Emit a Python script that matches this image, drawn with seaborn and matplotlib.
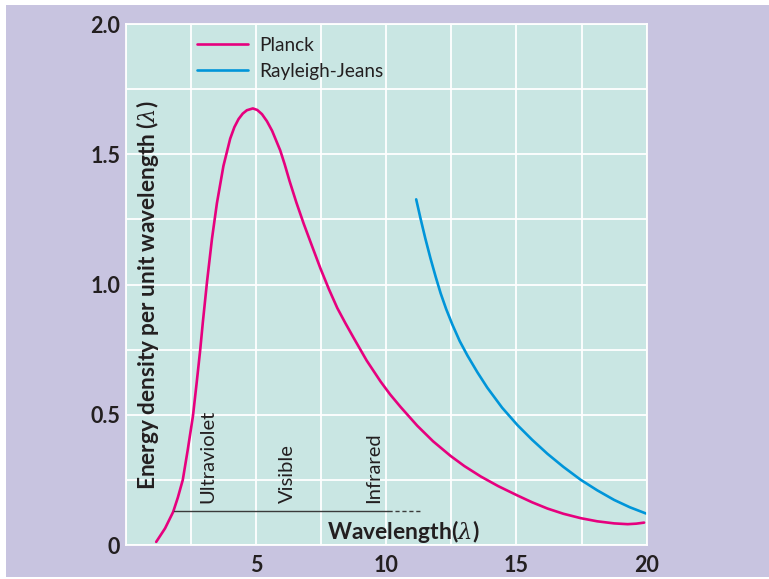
import numpy as np
import pandas as pd
import matplotlib
matplotlib.use("Agg")
import matplotlib.pyplot as plt
from matplotlib.patches import Rectangle
import seaborn as sns

# values
planck_x = [1.17, 1.51, 1.82, 2.0, 2.19, 2.38, 2.58, 2.72, 2.86, 2.96, 3.12, 3.31, 3.50, 3.75,
            4.01, 4.17, 4.33, 4.49, 4.65, 4.88, 5.05, 5.23, 5.42, 5.62, 5.93, 6.1, 6.29, 6.55,
            6.83, 7.15, 7.47, 7.8, 8.12, 8.43, 8.75, 9.25, 9.78, 10.15, 10.55, 11.19, 11.8,
            12.47, 13.0, 13.63, 14.3, 15.04, 15.6, 16.19, 16.8, 17.47, 18.1, 18.75, 19.27,
            19.6, 19.9]
planck_y = [0.012, 0.064, 0.127, 0.182, 0.25, 0.365, 0.495, 0.62, 0.75, 0.855, 1.010, 1.175,
            1.312, 1.455, 1.560, 1.604, 1.635, 1.656, 1.669, 1.676, 1.670, 1.654, 1.627, 1.590,
            1.515, 1.462, 1.397, 1.315, 1.234, 1.148, 1.063, 0.982, 0.910, 0.852, 0.795, 0.708,
            0.628, 0.578, 0.530, 0.458, 0.398, 0.342, 0.303, 0.263, 0.226, 0.190, 0.164, 0.140,
            0.120, 0.103, 0.091, 0.083, 0.080, 0.082, 0.086]

rj_x = [11.15, 11.32, 11.5, 11.70, 11.9, 12.09, 12.3, 12.54, 12.82, 13.12, 13.5, 13.88, 14.45,
        15.04, 15.6, 16.19, 16.8, 17.47, 18.1, 18.75, 19.35, 19.97]
rj_y = [1.327, 1.252, 1.177, 1.100, 1.029, 0.966, 0.906, 0.846, 0.783, 0.727, 0.663, 0.604, 0.527,
        0.460, 0.404, 0.350, 0.300, 0.250, 0.210, 0.173, 0.145, 0.121]

band_names = ["Ultraviolet", "Visible", "Infrared"]
band_x = [3.17, 6.2, 9.51]

x_ticks = [0, 2.5, 5, 7.5, 10, 12.5, 15, 17.5, 20]
x_labels = ["", "", "5", "", "10", "", "15", "", "20"]
y_ticks = [0, 0.25, 0.5, 0.75, 1.0, 1.25, 1.5, 1.75, 2.0]
y_labels = ["0", "", "0.5", "", "1.0", "", "1.5", "", "2.0"]

LAVENDER = "#c8c4e0"
TEAL = "#c9e6e3"
PINK = "#e6007e"
BLUE = "#0095d9"
DARK = "#231f20"

sns.set_style("white")
plt.rcParams["font.family"] = ["Lato", "DejaVu Sans"]
plt.rcParams["mathtext.fontset"] = "dejavuserif"

fig = plt.figure(figsize=(7.69, 5.79), dpi=100, facecolor="white")
fig.patches.append(Rectangle((6 / 769, 2 / 579), 1, 572 / 579, transform=fig.transFigure,
                             facecolor=LAVENDER, edgecolor="none", zorder=-10))
ax = fig.add_axes([0.1635, 0.0587, 0.6775, 0.8998])
ax.set_facecolor(TEAL)

planck_df = pd.DataFrame({"x": planck_x, "y": planck_y})
rj_df = pd.DataFrame({"x": rj_x, "y": rj_y})
sns.lineplot(data=planck_df, x="x", y="y", ax=ax, color=PINK, lw=1.9, label="Planck", sort=False)
sns.lineplot(data=rj_df, x="x", y="y", ax=ax, color=BLUE, lw=1.9, label="Rayleigh-Jeans", sort=False)

ax.set_xlim(0, 20)
ax.set_ylim(0, 2.0)
ax.set_xticks(x_ticks)
ax.set_xticklabels(x_labels)
ax.set_yticks(y_ticks)
ax.set_yticklabels(y_labels)
ax.tick_params(length=0, labelsize=15.5, labelcolor=DARK)
ax.tick_params(axis="x", pad=7)
ax.tick_params(axis="y", pad=4)
for lab in ax.get_xticklabels() + ax.get_yticklabels():
    lab.set_fontweight("bold")
ax.grid(True, color="white", lw=1.3)
ax.set_axisbelow(True)
for s in ax.spines.values():
    s.set_color("white")
    s.set_linewidth(1.3)
ax.set_xlabel("")
ax.set_ylabel("")

# wavelength band marker
ax.plot([1.87, 10.05], [0.131, 0.131], color="#3a3a3a", lw=1)
ax.plot([10.05, 11.32], [0.131, 0.131], color="#3a3a3a", lw=1, ls=(0, (3, 2)))
for name, bx in zip(band_names, band_x):
    ax.text(bx, 0.16, name, rotation=90, ha="center", va="bottom", fontsize=14.5, color=DARK)

ax.text(10.67, 0.05, r"Wavelength($\lambda$)", ha="center", va="center", fontsize=16.5,
        fontweight="bold", color=DARK)
ax.text(0.041, 0.479, r"Energy density per unit wavelength ($\lambda$)", transform=ax.transAxes,
        rotation=90, ha="center", va="center", fontsize=16.3, fontweight="bold", color=DARK)

ax.legend(loc="upper left", bbox_to_anchor=(0.137, 0.975), frameon=False, fontsize=13.7,
          handlelength=2.7, handletextpad=0.55, labelspacing=0.45, borderpad=0,
          borderaxespad=0, labelcolor=DARK)

fig.savefig("out.png", dpi=100)
